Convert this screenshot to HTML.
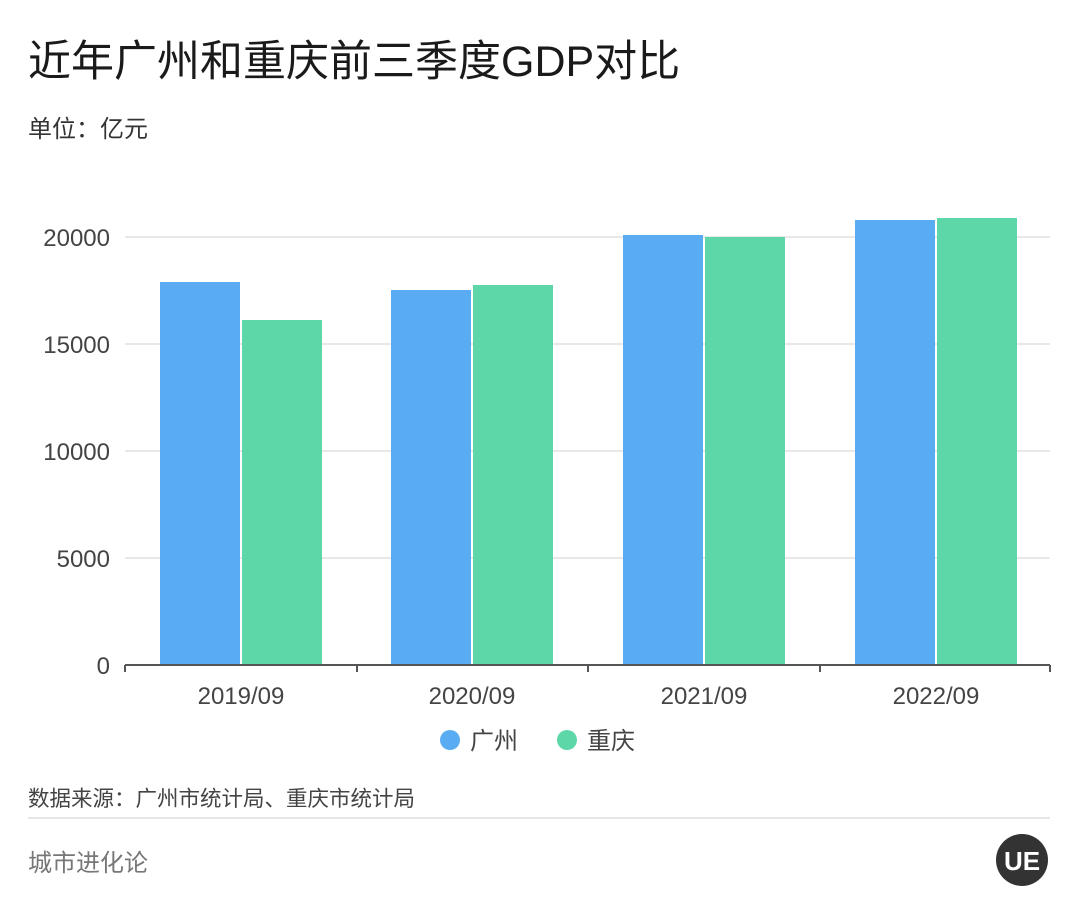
<!DOCTYPE html>
<html><head><meta charset="utf-8"><style>
body{margin:0;background:#fff;}
svg text{font-family:"Liberation Sans","Noto Sans CJK SC",sans-serif;}
</style></head><body>
<svg width="1080" height="918" xmlns="http://www.w3.org/2000/svg">
<rect width="1080" height="918" fill="#fff"/>
<text x="28" y="76" font-size="43" fill="#1a1a1a">近年广州和重庆前三季度GDP对比</text>
<text x="28" y="137" font-size="24" fill="#333">单位：亿元</text>
<g stroke="#e0e0e0" stroke-width="1.5">
<line x1="125" y1="237" x2="1050" y2="237"/>
<line x1="125" y1="344" x2="1050" y2="344"/>
<line x1="125" y1="451" x2="1050" y2="451"/>
<line x1="125" y1="558" x2="1050" y2="558"/>
</g>
<g font-size="24" fill="#444" text-anchor="end">
<text x="110" y="246">20000</text>
<text x="110" y="353">15000</text>
<text x="110" y="460">10000</text>
<text x="110" y="567">5000</text>
<text x="110" y="674">0</text>
</g>
<g fill="#5aacf2">
<rect x="160" y="282" width="80" height="383"/>
<rect x="391" y="290" width="80" height="375"/>
<rect x="623" y="235" width="80" height="430"/>
<rect x="855" y="220" width="80" height="445"/>
</g>
<g fill="#5ed7a8">
<rect x="242" y="320" width="80" height="345"/>
<rect x="473" y="285" width="80" height="380"/>
<rect x="705" y="237" width="80" height="428"/>
<rect x="937" y="218" width="80" height="447"/>
</g>
<line x1="125" y1="665" x2="1050" y2="665" stroke="#555" stroke-width="2"/>
<g stroke="#555" stroke-width="2">
<line x1="125" y1="665" x2="125" y2="672"/><line x1="357" y1="665" x2="357" y2="672"/>
<line x1="588" y1="665" x2="588" y2="672"/><line x1="820" y1="665" x2="820" y2="672"/><line x1="1050" y1="665" x2="1050" y2="672"/>
</g>
<g font-size="24" fill="#444" text-anchor="middle">
<text x="241" y="704">2019/09</text>
<text x="472" y="704">2020/09</text>
<text x="704" y="704">2021/09</text>
<text x="936" y="704">2022/09</text>
</g>
<circle cx="450" cy="740" r="10" fill="#5aacf2"/>
<text x="470" y="749" font-size="24" fill="#444">广州</text>
<circle cx="567" cy="740" r="10" fill="#5ed7a8"/>
<text x="587" y="749" font-size="24" fill="#444">重庆</text>
<text x="28" y="806" font-size="21.5" fill="#444">数据来源：广州市统计局、重庆市统计局</text>
<line x1="28" y1="818" x2="1050" y2="818" stroke="#ddd" stroke-width="1.5"/>
<text x="28" y="871" font-size="24" fill="#777">城市进化论</text>
<circle cx="1022" cy="860" r="26" fill="#333"/>
<text x="1022" y="870" font-size="26" fill="#fff" text-anchor="middle" font-weight="bold">UE</text>
</svg>
</body></html>
